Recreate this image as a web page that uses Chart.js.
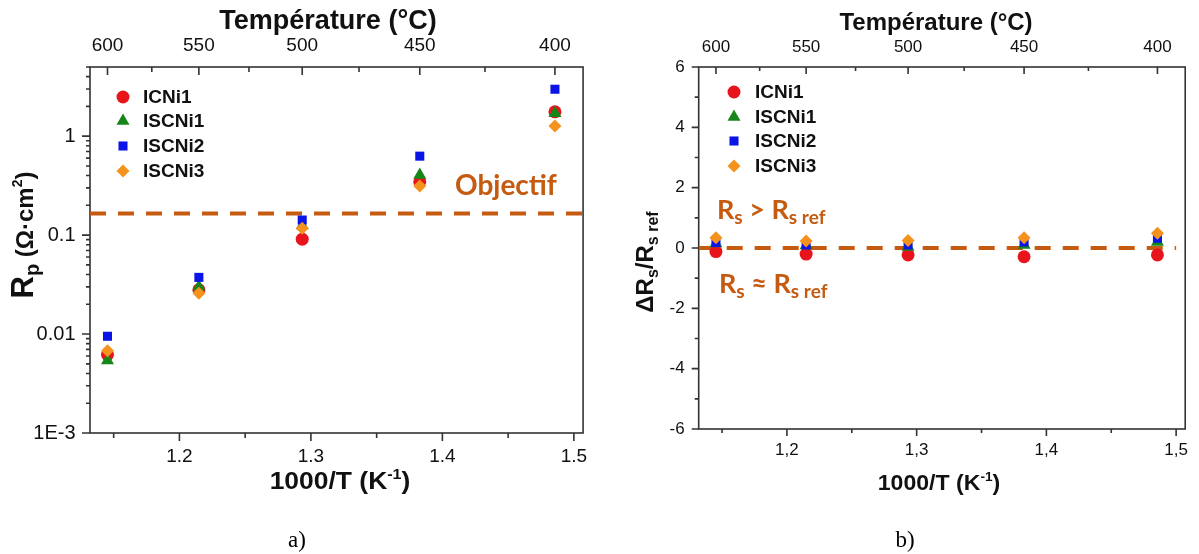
<!DOCTYPE html>
<html><head><meta charset="utf-8">
<script src="https://cdn.jsdelivr.net/npm/chart.js@4.4.1/dist/chart.umd.min.js"></script>
<style>
html,body{margin:0;padding:0;background:#fff;}
#wrap{position:relative;width:1199px;height:554px;overflow:hidden;background:#fff;}
canvas{position:absolute;top:0;}
#c1{left:0;}
#c2{left:600px;}
.cap{position:absolute;font-family:'Liberation Serif','Times New Roman',serif;font-size:23px;color:#000;transform:translate(-50%,-50%);}
</style></head>
<body><div id="wrap">
<canvas id="c1" width="600" height="554"></canvas>
<canvas id="c2" width="599" height="554"></canvas>
<div class="cap" style="left:297px;top:540px">a)</div>
<div class="cap" style="left:905px;top:540px">b)</div>
</div>
<script>
// ---------- data ----------
const seriesNames = ['ICNi1', 'ISCNi1', 'ISCNi2', 'ISCNi3'];
const invT = [1.1453, 1.2148, 1.2934, 1.3828, 1.4856];           // 1000/T (K^-1)
const tempLabels = ['600', '550', '500', '450', '400'];           // °C
const tempTickPos = [1.1453, 1.2148, 1.2934, 1.3828, 1.4856];     // position of the °C ticks
const tempMinorPos = [1.1790, 1.2529, 1.3366, 1.4324];            // 575, 525, 475, 425 °C
const xTickValues = [1.2, 1.3, 1.4, 1.5];
const xMinorValues = [1.15, 1.25, 1.35, 1.45];
const xTickLabelsA = ['1.2', '1.3', '1.4', '1.5'];
const xTickLabelsB = ['1,2', '1,3', '1,4', '1,5'];

// a) Rp (ohm.cm2)
const rpICNi1  = [0.0062, 0.028, 0.091, 0.346, 1.76];
const rpISCNi1 = [0.0054, 0.030, 0.125, 0.404, 1.70];
const rpISCNi2 = [0.0095, 0.0374, 0.142, 0.628, 2.98];
const rpISCNi3 = [0.0068, 0.0258, 0.117, 0.313, 1.27];
const rpTickValues = [0.001, 0.01, 0.1, 1];
const rpTickLabels = ['1E-3', '0.01', '0.1', '1'];
const rpObjective = 0.165;

// b) dRs/Rs ref
const dRsICNi1  = [-0.12, -0.20, -0.23, -0.29, -0.23];
const dRsISCNi1 = [0.15, 0.08, 0.03, 0.10, 0.20];
const dRsISCNi2 = [0.18, 0.10, 0.10, 0.20, 0.32];
const dRsISCNi3 = [0.34, 0.23, 0.25, 0.34, 0.49];
const dRsTickValues = [-6, -4, -2, 0, 2, 4, 6];
const dRsMinorValues = [-5, -3, -1, 1, 3, 5];
const dRsReference = 0;

// ---------- styling ----------
const FONT = "'Liberation Sans', Arial, sans-serif";
const ANNOT = "Lato, 'Open Sans', sans-serif";
const ORANGE = '#C55A11';
const TXT = '#111111';
const markerStyles = [
  {pointStyle: 'circle',   color: '#E8141C', r: 6.5},
  {pointStyle: 'triangle', color: '#17861A', r: 7.5},
  {pointStyle: 'rect',     color: '#0A14E6', r: 6.4},
  {pointStyle: 'rectRot',  color: '#F5921E', r: 6.5}
];

const rpMinorValues = [];
[0.001, 0.01, 0.1, 1].forEach(d => { for (let k = 2; k <= 9; k++) rpMinorValues.push(d * k); });

function seriesDatasets(list) {
  return list.map((vals, i) => ({
    label: seriesNames[i],
    data: invT.map((x, j) => ({x: x, y: vals[j]})),
    pointStyle: markerStyles[i].pointStyle,
    pointRadius: markerStyles[i].r,
    pointHoverRadius: markerStyles[i].r,
    backgroundColor: markerStyles[i].color,
    borderColor: markerStyles[i].color,
    borderWidth: 0,
    pointBorderWidth: 0,
    showLine: false,
    order: 4 - i,
    legendItem: true
  }));
}
function refLine(y, x0, x1) {
  return {label: 'ref', data: [{x: x0, y: y}, {x: x1, y: y}], showLine: true,
    borderColor: ORANGE, borderWidth: 4, borderDash: [16, 12], pointRadius: 0, order: 10, fill: false};
}

function drawMarker(ctx, style, x, y, r, color) {
  ctx.fillStyle = color;
  ctx.beginPath();
  if (style === 'circle') ctx.arc(x, y, r, 0, Math.PI * 2);
  else if (style === 'triangle') { ctx.moveTo(x, y - r); ctx.lineTo(x + r * 0.866, y + r * 0.5); ctx.lineTo(x - r * 0.866, y + r * 0.5); ctx.closePath(); }
  else if (style === 'rect') { const h = r * Math.SQRT1_2; ctx.rect(x - h, y - h, 2 * h, 2 * h); }
  else { ctx.moveTo(x, y - r); ctx.lineTo(x + r, y); ctx.lineTo(x, y + r); ctx.lineTo(x - r, y); ctx.closePath(); }
  ctx.fill();
}

function drawRich(ctx, it) {
  ctx.save();
  ctx.translate(it.x, it.y);
  if (it.rotate) ctx.rotate(it.rotate);
  if (it.scaleX) ctx.scale(it.scaleX, 1);
  const fam = it.family || FONT;
  const fnt = s => `${s.weight || 'bold'} ${s.size}px ${fam}`;
  let total = 0;
  it.segs.forEach(s => { ctx.font = fnt(s); total += ctx.measureText(s.t).width; });
  let x = it.align === 'left' ? 0 : (it.align === 'right' ? -total : -total / 2);
  ctx.textBaseline = 'alphabetic';
  ctx.textAlign = 'left';
  ctx.fillStyle = it.color || TXT;
  it.segs.forEach(s => { ctx.font = fnt(s); ctx.fillText(s.t, x, s.dy || 0); x += ctx.measureText(s.t).width; });
  ctx.restore();
}

const decorPlugin = {
  id: 'decor',
  beforeDatasetsDraw(chart, args, opts) {
    const {ctx, chartArea: a, scales} = chart;
    ctx.save();
    ctx.strokeStyle = opts.frameColor; ctx.lineWidth = opts.frameWidth;
    ctx.strokeRect(a.left, a.top, a.right - a.left, a.bottom - a.top);
    ctx.beginPath();
    opts.ticks.forEach(t => {
      const sc = scales[t.scale];
      t.values.forEach(v => {
        if (v < sc.min || v > sc.max) return;
        const p = sc.getPixelForValue(v);
        if (t.side === 'top') { ctx.moveTo(p, a.top); ctx.lineTo(p, a.top + (t.out ? -t.len : t.len)); }
        else if (t.side === 'bottom') { ctx.moveTo(p, a.bottom); ctx.lineTo(p, a.bottom + (t.out ? t.len : -t.len)); }
        else { ctx.moveTo(a.left, p); ctx.lineTo(a.left + (t.out ? -t.len : t.len), p); }
      });
    });
    ctx.stroke();
    ctx.restore();
  },
  afterDraw(chart, args, opts) {
    const ctx = chart.ctx;
    const lg = opts.legend;
    let row = 0;
    chart.data.datasets.forEach(ds => {
      if (!ds.legendItem) return;
      const y = lg.ys[row++];
      drawMarker(ctx, ds.pointStyle, lg.markerX, y, ds.pointRadius, ds.backgroundColor);
      ctx.save();
      ctx.font = `bold ${lg.size}px ${FONT}`;
      ctx.fillStyle = TXT; ctx.textBaseline = 'middle'; ctx.textAlign = 'left';
      ctx.fillText(ds.label, lg.textX, y + 1);
      ctx.restore();
    });
    opts.texts.forEach(t => drawRich(ctx, t));
  }
};

function axisX(pos, height, vals, labels, pad, size, min, max) {
  return {
    type: 'linear', position: pos, min: min, max: max,
    grid: {display: false, drawTicks: false}, border: {display: false},
    afterFit: s => { s.height = height; },
    afterBuildTicks: s => { s.ticks = vals.map(v => ({value: v})); },
    ticks: {autoSkip: false, maxRotation: 0, minRotation: 0, padding: pad, color: TXT,
      font: {family: FONT, size: size}, callback: (v, i) => labels[i]}
  };
}

// ---------- chart a ----------
const XMIN = 1.132, XMAX = 1.507;
new Chart(document.getElementById('c1'), {
  type: 'scatter',
  data: {datasets: [refLine(rpObjective, XMIN, XMAX)].concat(seriesDatasets([rpICNi1, rpISCNi1, rpISCNi2, rpISCNi3]))},
  options: {
    responsive: false, animation: false, devicePixelRatio: 1,
    layout: {padding: {left: 0, right: 12, top: 0, bottom: 0}},
    plugins: {
      legend: {display: false}, tooltip: {enabled: false},
      decor: {
        frameColor: '#333', frameWidth: 1.6,
        ticks: [
          {scale: 'xTop', side: 'top', out: false, len: 8, values: tempTickPos},
          {scale: 'xTop', side: 'top', out: false, len: 5, values: tempMinorPos},
          {scale: 'x', side: 'bottom', out: true, len: 8, values: xTickValues},
          {scale: 'x', side: 'bottom', out: true, len: 5, values: xMinorValues},
          {scale: 'y', side: 'left', out: true, len: 8, values: rpTickValues},
          {scale: 'y', side: 'left', out: true, len: 4, values: rpMinorValues}
        ],
        legend: {markerX: 123, textX: 143, ys: [97, 121, 146, 171], size: 19},
        texts: [
          {segs: [{t: 'Température (°C)', size: 27}], x: 328, y: 29},
          {segs: [{t: '1000/T (K', size: 23}, {t: '-1', size: 14, dy: -10}, {t: ')', size: 23}], x: 340, y: 489, scaleX: 1.15},
          {segs: [{t: 'R', size: 31}, {t: 'p', size: 20, dy: 6}, {t: ' (Ω·cm', size: 24}, {t: '2', size: 14, dy: -11}, {t: ')', size: 24}], x: 33, y: 235, rotate: -Math.PI / 2},
          {segs: [{t: 'Objectif', size: 28}], x: 455, y: 195, align: 'left', family: ANNOT, color: ORANGE}
        ]
      }
    },
    scales: {
      x: axisX('bottom', 121, xTickValues, xTickLabelsA, 12.6, 19, XMIN, XMAX),
      xTop: axisX('top', 67, tempTickPos, tempLabels, 9.6, 19, XMIN, XMAX),
      y: {
        type: 'logarithmic', position: 'left', min: 0.001, max: 5,
        grid: {display: false, drawTicks: false}, border: {display: false},
        afterFit: s => { s.width = 90; },
        afterBuildTicks: s => { s.ticks = rpTickValues.map(v => ({value: v})); },
        ticks: {autoSkip: false, padding: 14.5, color: TXT, font: {family: FONT, size: 20},
          callback: (v, i) => rpTickLabels[i]}
      }
    }
  },
  plugins: [decorPlugin]
});

// ---------- chart b ----------
new Chart(document.getElementById('c2'), {
  type: 'scatter',
  data: {datasets: [refLine(dRsReference, XMIN, 1.5)].concat(seriesDatasets([dRsICNi1, dRsISCNi1, dRsISCNi2, dRsISCNi3]))},
  options: {
    responsive: false, animation: false, devicePixelRatio: 1,
    layout: {padding: {left: 0, right: 7, top: 0, bottom: 0}},
    plugins: {
      legend: {display: false}, tooltip: {enabled: false},
      decor: {
        frameColor: '#333', frameWidth: 1.6,
        ticks: [
          {scale: 'xTop', side: 'top', out: false, len: 7, values: tempTickPos},
          {scale: 'xTop', side: 'top', out: false, len: 4, values: tempMinorPos},
          {scale: 'x', side: 'bottom', out: true, len: 7, values: xTickValues},
          {scale: 'x', side: 'bottom', out: true, len: 4, values: xMinorValues},
          {scale: 'y', side: 'left', out: true, len: 7, values: dRsTickValues},
          {scale: 'y', side: 'left', out: true, len: 4, values: dRsMinorValues}
        ],
        legend: {markerX: 134, textX: 155, ys: [92, 117, 141, 166], size: 19},
        texts: [
          {segs: [{t: 'Température (°C)', size: 24}], x: 336, y: 30},
          {segs: [{t: '1000/T (K', size: 22}, {t: '-1', size: 13, dy: -9}, {t: ')', size: 22}], x: 339, y: 490, scaleX: 1.05},
          {segs: [{t: 'ΔR', size: 24}, {t: 's', size: 16, dy: 5}, {t: '/R', size: 24}, {t: 's ref', size: 16, dy: 5}], x: 53, y: 262, rotate: -Math.PI / 2},
          {segs: [{t: 'R', size: 27}, {t: 's', size: 19, dy: 5}, {t: ' > R', size: 27}, {t: 's ref', size: 19, dy: 5}], x: 117, y: 219, align: 'left', family: ANNOT, color: ORANGE},
          {segs: [{t: 'R', size: 27}, {t: 's', size: 19, dy: 5}, {t: ' ≈ R', size: 27}, {t: 's ref', size: 19, dy: 5}], x: 119, y: 293, align: 'left', family: ANNOT, color: ORANGE}
        ]
      }
    },
    scales: {
      x: axisX('bottom', 125, xTickValues, xTickLabelsB, 10.8, 17, XMIN, XMAX),
      xTop: axisX('top', 67, tempTickPos, tempLabels, 9, 17, XMIN, XMAX),
      y: {
        type: 'linear', position: 'left', min: -6, max: 6,
        grid: {display: false, drawTicks: false}, border: {display: false},
        afterFit: s => { s.width = 98.7; },
        afterBuildTicks: s => { s.ticks = dRsTickValues.map(v => ({value: v})); },
        ticks: {autoSkip: false, padding: 14, color: TXT, font: {family: FONT, size: 17},
          callback: (v, i) => String(dRsTickValues[i])}
      }
    }
  },
  plugins: [decorPlugin]
});
</script>
</body></html>
